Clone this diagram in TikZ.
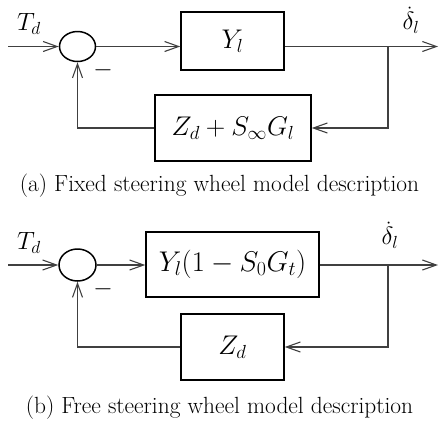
\RequirePackage{fix-cm}
\documentclass[tikz,border=0pt]{standalone}
\usetikzlibrary{arrows.meta,shapes.geometric}
\begin{document}
\begin{tikzpicture}[x=1pt,y=-1pt,
  blk/.style={draw,line width=1.5pt,inner sep=0pt,font=\fontsize{27}{32}\selectfont},
  sumnode/.style={draw,ellipse,line width=1.5pt,inner sep=0pt},
  conn/.style={line width=1.1pt,draw=black!75},
  arr/.style={conn,-{Straight Barb[length=14pt,width=10pt,line width=1.1pt]}},
  lbl/.style={inner sep=0pt,font=\fontsize{25}{30}\selectfont},
  captext/.style={inner sep=0pt,font=\fontsize{23.4}{28}\selectfont}]
\useasboundingbox (0,0) rectangle (439,424);
% ---------- (a) ----------
\coordinate (in1) at (8,46.5);
\node[sumnode,minimum width=36pt,minimum height=30pt] (sum1) at (77.5,46.5) {};
\node[blk,minimum width=103pt,minimum height=58pt] (box1) at (232.5,41) {$Y_l$};
\node[blk,minimum width=156pt,minimum height=66pt] (fb1) at (233,128) {$Z_d+S_\infty G_l$};
\coordinate (br1) at (388,46.5);
\coordinate (out1) at (438,46.5);
\node[lbl] (td1) at (29,24) {$T_d$};
\node[lbl] (m1) at (103,70) {$-$};
\node[lbl] (dl1) at (411,20) {$\dot{\delta}_l$};
\draw[arr] (in1) -- (sum1.west);
\draw[arr] (sum1.east) -- (sum1.east -| box1.west);
\draw[arr] (sum1.east -| box1.east) -- (out1);
\draw[arr] (br1) |- (fb1.east);
\draw[arr] (fb1.west) -| (sum1.south);
\node[captext] (cap1) at (219.5,186) {(a) Fixed steering wheel model description};
% ---------- (b) ----------
\coordinate (in2) at (8,265);
\node[sumnode,minimum width=37pt,minimum height=32pt] (sum2) at (77.5,265) {};
\node[blk,minimum width=173pt,minimum height=65pt,font=\fontsize{28.5}{33}\selectfont] (box2) at (232.5,264.5) {$Y_l(1-S_0G_t)$};
\node[blk,minimum width=103pt,minimum height=66pt] (fb2) at (232.5,347) {$Z_d$};
\coordinate (br2) at (388,265);
\coordinate (out2) at (438,265);
\node[lbl] (td2) at (29,243) {$T_d$};
\node[lbl] (m2) at (103,289) {$-$};
\node[lbl] (dl2) at (390,235) {$\dot{\delta}_l$};
\draw[arr] (in2) -- (sum2.west);
\draw[arr] (sum2.east) -- (sum2.east -| box2.west);
\draw[arr] (sum2.east -| box2.east) -- (out2);
\draw[arr] (br2) |- (fb2.east);
\draw[arr] (fb2.west) -| (sum2.south);
\node[captext] (cap2) at (219.5,408) {(b) Free steering wheel model description};
\end{tikzpicture}
\end{document}
